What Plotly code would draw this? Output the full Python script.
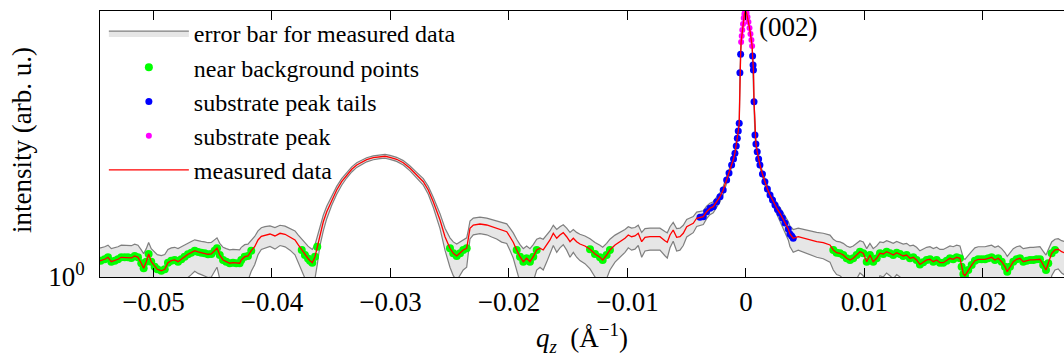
import numpy as np
import plotly.graph_objects as go

# q_z values (1/Angstrom) and measured intensity (counts)
q = [-0.05477, -0.05446, -0.05412, -0.05384, -0.05356, -0.05327, -0.05300, -0.05272, -0.05243, -0.05215,
     -0.05187, -0.05159, -0.05131, -0.05103, -0.05083, -0.05061, -0.05041, -0.05019, -0.04990, -0.04968,
     -0.04934, -0.04905, -0.04878, -0.04850, -0.04821, -0.04793, -0.04765, -0.04737, -0.04709, -0.04681,
     -0.04652, -0.04624, -0.04597, -0.04568, -0.04540, -0.04512, -0.04484, -0.04464, -0.04441, -0.04413,
     -0.04386, -0.04357, -0.04329, -0.04301, -0.04273, -0.04259, -0.04230, -0.04203, -0.04175, -0.04146,
     -0.04118, -0.04090,
     -0.04059, -0.04017, -0.03975, -0.03932, -0.03890, -0.03848, -0.03806, -0.03778, -0.03749, -0.03722,
     -0.03696, -0.03679, -0.03660, -0.03637, -0.03618, -0.03595, -0.03567, -0.03538, -0.03496, -0.03454,
     -0.03412, -0.03370, -0.03327, -0.03285, -0.03243, -0.03201, -0.03145, -0.03089, -0.03046, -0.03004,
     -0.02948, -0.02892, -0.02835, -0.02779, -0.02723, -0.02681,
     -0.02639, -0.02582, -0.02540, -0.02498, -0.02470, -0.02441, -0.02413, -0.02386, -0.02357, -0.02343,
     -0.02329, -0.02301, -0.02245, -0.02188, -0.02146, -0.02104, -0.02062, -0.02019, -0.01992, -0.01964,
     -0.01935, -0.01907, -0.01879, -0.01851, -0.01823, -0.01795, -0.01766, -0.01738, -0.01711, -0.01682,
     -0.01654, -0.01626, -0.01597, -0.01570, -0.01542, -0.01513, -0.01485, -0.01457, -0.01429, -0.01401,
     -0.01359,
     -0.01316, -0.01274, -0.01232, -0.01209, -0.01176, -0.01148, -0.01105, -0.01063, -0.01021, -0.00993,
     -0.00965, -0.00937, -0.00909, -0.00880, -0.00852, -0.00810, -0.00768, -0.00726, -0.00684, -0.00664,
     -0.00641, -0.00614, -0.00585, -0.00557, -0.00529, -0.00500, -0.00473, -0.00445, -0.00416, -0.00388,
     -0.00360, -0.00332, -0.00304, -0.00276, -0.00247, -0.00219, -0.00192, -0.00163, -0.00143, -0.00121,
     -0.00105, -0.00093, -0.00082, -0.00073, -0.00065, -0.00057, -0.00051, -0.00045,
     -0.00041, -0.00036, -0.00031, -0.00025, -0.00019, -0.00013, -0.00006, -0.00003, 0.00005, 0.00013,
     0.00021, 0.00030, 0.00038, 0.00046, 0.00052,
     0.00056, 0.00060, 0.00063, 0.00068, 0.00076, 0.00084, 0.00095, 0.00107, 0.00118, 0.00139,
     0.00160, 0.00181, 0.00203, 0.00224, 0.00245, 0.00266, 0.00287, 0.00308, 0.00329, 0.00357,
     0.00371, 0.00386, 0.00399,
     0.00441, 0.00484, 0.00540, 0.00597, 0.00652, 0.00709, 0.00737, 0.00765, 0.00793, 0.00821,
     0.00850, 0.00878, 0.00905, 0.00934, 0.00962, 0.00990, 0.01019, 0.01046, 0.01074, 0.01103,
     0.01131, 0.01159, 0.01187, 0.01215, 0.01243, 0.01272, 0.01300, 0.01327, 0.01356, 0.01384,
     0.01412, 0.01440, 0.01468, 0.01496, 0.01525,
     0.01553, 0.01581, 0.01609, 0.01637, 0.01665, 0.01694, 0.01722, 0.01749, 0.01778, 0.01806,
     0.01820, 0.01835, 0.01848, 0.01876, 0.01905, 0.01932, 0.01960, 0.01989, 0.02017, 0.02045,
     0.02073, 0.02101, 0.02129, 0.02158, 0.02186, 0.02205, 0.02228, 0.02256, 0.02284, 0.02312,
     0.02340, 0.02369, 0.02397, 0.02425, 0.02453, 0.02481, 0.02509, 0.02532, 0.02551, 0.02580,
     0.02608, 0.02635, 0.02664, 0.02684, 0.02717]

intensity = [1.95, 1.98, 2.10, 2.28, 1.90, 1.98, 2.10, 2.28, 2.28, 2.28,
             2.22, 2.41, 2.28, 1.78, 1.44, 1.90, 2.62, 1.90, 1.54, 1.38,
             1.30, 1.38, 1.82, 1.98, 2.04, 1.90, 2.10, 2.34, 2.59, 2.77,
             3.01, 2.85, 2.77, 2.70, 2.59, 2.62, 3.01, 3.33, 2.51, 2.04,
             1.90, 1.78, 1.82, 1.78, 1.78, 2.04, 2.34, 2.41, 3.01, 3.56,
             4.71, 5.50,
             5.80, 6.05, 5.57, 6.23, 5.98, 5.40, 4.71, 3.82, 3.10, 2.51,
             2.17, 1.98, 1.82, 2.34, 3.56, 6.23, 10.1, 15.4, 25.1, 38.2,
             54.0, 71.5, 90.8, 108.7, 123.3, 135.8, 147.6, 153.9, 156.6, 150.2,
             138.1, 119.7, 94.7, 71.5, 54.0, 38.2,
             23.4, 10.87, 5.40, 3.33, 2.70, 2.41, 2.70, 3.10, 3.33, 4.91,
             7.68, 8.82, 9.20, 8.82, 8.21, 7.68, 6.95, 6.66, 5.40, 4.28,
             3.10, 2.34, 1.90, 2.19, 1.90, 2.34, 3.10, 3.33, 3.10, 3.82,
             4.71, 6.23, 5.06, 5.80, 6.39, 5.40, 4.38, 5.06, 4.38, 3.98,
             3.66,
             3.19, 2.62, 2.28, 2.04, 2.51, 3.10, 3.82, 4.38, 5.06, 5.80,
             5.40, 5.57, 6.23, 4.38, 5.27, 5.40, 5.40, 5.40, 4.57, 4.28,
             5.80, 7.15, 5.27, 5.40, 6.23, 8.21, 8.82, 9.47, 11.7, 12.2,
             12.5, 15.4, 17.8, 19.0, 23.4, 28.8, 38.2, 58.0, 77.8, 108.7,
             139.8, 178, 241, 333, 451, 623, 5180, 11200,
             18740, 24090, 30970, 39810, 51180, 60510, 67200, 68400, 63100, 53370,
             43290, 33670, 26190, 20380, 15850,
             10430, 7154, 5803, 1539, 382, 262, 190, 140, 108.7, 74.6,
             54.0, 39.8, 31.0, 25.1, 20.4, 16.9, 14.4, 11.8, 9.59, 7.46,
             6.05, 5.57, 5.06,
             5.40, 5.06, 4.71, 4.38, 4.20, 3.82, 3.10, 2.77, 2.70, 2.51,
             2.19, 2.04, 2.19, 2.51, 2.88, 2.70, 1.90, 2.51, 1.90, 2.19,
             2.70, 2.62, 2.88, 2.70, 2.51, 2.77, 2.62, 2.41, 2.51, 2.19,
             2.28, 2.04, 1.69, 1.86, 2.04,
             2.10, 1.90, 2.04, 1.82, 1.82, 1.98, 2.19, 2.10, 2.28, 2.19,
             1.54, 1.13, 1.06, 1.34, 1.65, 1.98, 2.10, 2.10, 2.10, 2.19,
             2.28, 2.04, 2.19, 1.90, 1.54, 1.25, 1.54, 1.90, 2.10, 2.19,
             1.90, 1.98, 2.04, 2.04, 2.10, 2.10, 1.65, 1.34, 1.78, 2.70,
             3.10, 3.19, 2.88, 2.77, 2.73]

# q intervals of each point class
near_background_ranges = [(-0.0548, -0.0417), (-0.0375, -0.0361), (-0.0251, -0.0235),
                          (-0.0196, -0.0175), (-0.0134, -0.0113), (0.0072, 0.0262)]
peak_tail_ranges = [(-0.0040, -0.00043), (0.00054, 0.0040)]
peak_ranges = [(-0.00043, 0.00054)]

x_ticks = [-0.05, -0.04, -0.03, -0.02, -0.01, 0, 0.01, 0.02]
x_tick_text = ["\u22120.05", "\u22120.04", "\u22120.03", "\u22120.02", "\u22120.01", "0", "0.01", "0.02"]

qa = np.array(q)
ia = np.array(intensity)
err = np.sqrt(ia)  # Poisson counting error
upper = ia + err
lower = np.clip(ia - err, 0.05, None)


def select(ranges):
    m = np.zeros(len(qa), dtype=bool)
    for a, b in ranges:
        m |= (qa >= a) & (qa <= b)
    return qa[m], ia[m]


FONT = "Liberation Serif"
FS = 27
fig = go.Figure()

fig.add_trace(go.Scatter(
    x=np.concatenate([qa, qa[::-1]]), y=np.concatenate([upper, lower[::-1]]),
    fill="toself", fillcolor="#e6e6e6", line=dict(color="#7f7f7f", width=1.2),
    mode="lines", name="error bar for measured data", hoverinfo="skip"))

gx, gy = select(near_background_ranges)
fig.add_trace(go.Scatter(x=gx, y=gy, mode="markers", name="near background points",
                         marker=dict(color="#00ff00", size=8)))
bx, by = select(peak_tail_ranges)
fig.add_trace(go.Scatter(x=bx, y=by, mode="markers", name="substrate peak tails",
                         marker=dict(color="#0000ff", size=7)))
mx, my = select(peak_ranges)
fig.add_trace(go.Scatter(x=mx, y=my, mode="markers", name="substrate peak",
                         marker=dict(color="#ff00ff", size=6)))
fig.add_trace(go.Scatter(x=qa, y=ia, mode="lines", name="measured data",
                         line=dict(color="#ff0000", width=1.3)))

fig.update_layout(
    width=1064, height=356,
    margin=dict(l=100, r=0, t=11, b=79),
    paper_bgcolor="white", plot_bgcolor="white",
    font=dict(family=FONT, size=FS, color="black"),
    legend=dict(x=0.004, y=1, xanchor="left", yanchor="top", bgcolor="rgba(0,0,0,0)",
                font=dict(family=FONT, size=24, color="black"),
                itemwidth=80, tracegroupgap=0),
    xaxis=dict(range=[-0.054515, 0.02684], tickvals=x_ticks, ticktext=x_tick_text,
               showline=True, linecolor="black", linewidth=1, mirror="ticks",
               ticks="inside", ticklen=9, tickcolor="black", showgrid=False, zeroline=False,
               ticklabelstandoff=1, tickfont=dict(family=FONT, size=FS)),
    yaxis=dict(type="log", range=[0, 4.836], tickvals=[1], ticktext=["10<sup>0</sup>"],
               showline=True, linecolor="black", linewidth=1, mirror=False,
               ticks="inside", ticklen=9, tickcolor="black", showgrid=False, zeroline=False,
               ticklabelstandoff=9, tickfont=dict(family=FONT, size=FS)),
    annotations=[
        dict(text="intensity (arb. u.)", xref="paper", yref="paper", x=-0.081, y=0.515,
             textangle=-90, showarrow=False, xanchor="center", yanchor="middle",
             font=dict(family=FONT, size=FS)),
        dict(text="<i>q</i><sub><i>z</i></sub> &nbsp;(\u00c5<sup>\u22121</sup>)", xref="paper", yref="paper",
             x=0.5, y=-0.229, showarrow=False, xanchor="center", yanchor="middle",
             font=dict(family=FONT, size=FS)),
        dict(text="(002)", xref="x", yref="y", x=0.00093, y=4.545, showarrow=False,
             xanchor="left", yanchor="middle", font=dict(family=FONT, size=FS)),
    ],
)

fig.write_html("out.html")
